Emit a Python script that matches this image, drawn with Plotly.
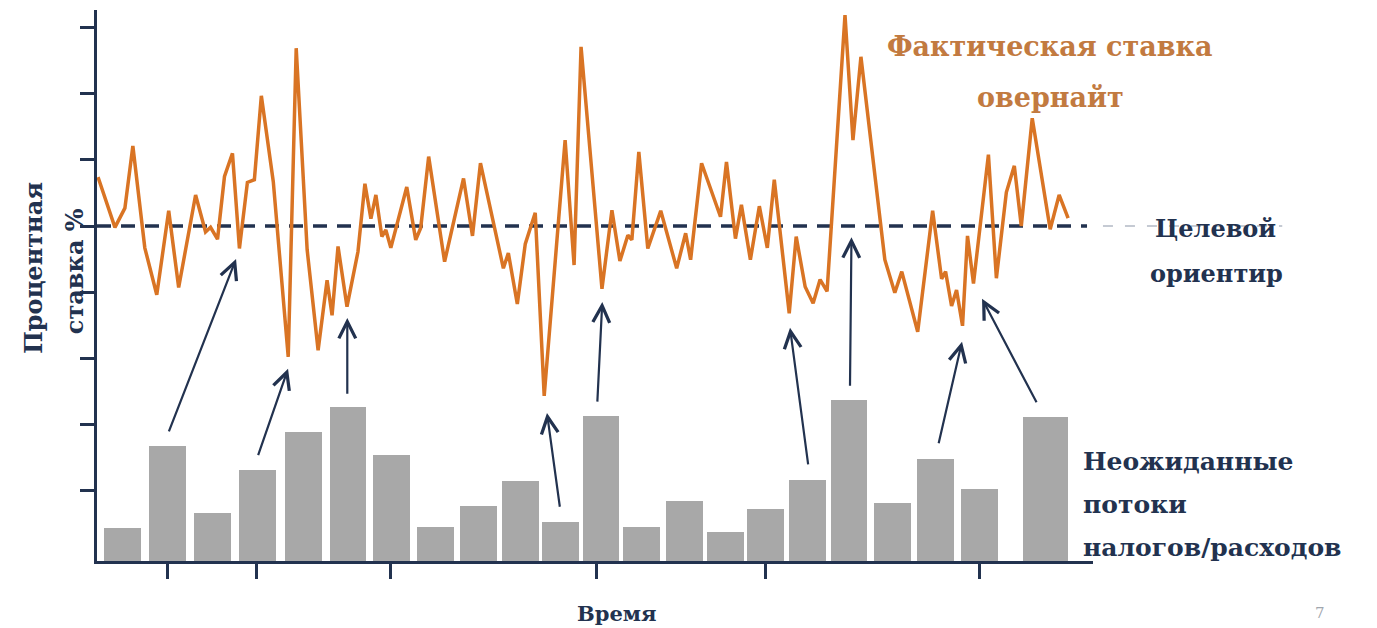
import plotly.graph_objects as go

# ---------------- data ----------------
# time in periods (0..100); overnight rate as deviation from target, p.p.
rate_t = [0.1, 1.8, 2.8, 3.6, 4.8, 6.0, 7.2, 8.2, 9.9, 10.9,
          11.4, 12.1, 12.8, 13.6, 14.3, 15.1, 15.8, 16.5, 17.7, 19.2,
          20.0, 21.1, 22.2, 23.1, 23.6, 24.2, 25.1, 26.2, 26.9, 27.5,
          28.0, 28.6, 29.0, 29.5, 31.1, 32.0, 32.5, 33.3, 34.9, 36.8,
          37.7, 38.5, 40.8, 41.3, 42.2, 43.0, 44.0, 44.9, 47.0, 47.9,
          48.6, 50.7, 51.7, 52.5, 53.3, 53.7, 54.4, 55.3, 56.6, 58.2,
          59.1, 59.6, 60.7, 62.6, 63.2, 64.1, 64.7, 65.6, 66.5, 67.3,
          68.0, 69.5, 70.2, 71.1, 71.9, 72.6, 73.3, 75.1, 75.9, 76.7,
          79.1, 80.1, 80.8, 82.4, 83.9, 84.8, 85.2, 85.8, 86.3, 86.9,
          87.4, 88.0, 89.5, 90.3, 91.3, 92.1, 92.8, 93.9, 95.7, 96.6, 97.5]
rate_dev = [0.74, -0.02, 0.27, 1.21, -0.33, -1.04, 0.23, -0.93, 0.47, -0.09,
            -0.02, -0.20, 0.75, 1.10, -0.34, 0.66, 0.70, 1.97, 0.67, -1.98,
            2.69, -0.36, -1.88, -0.82, -1.35, -0.31, -1.22, -0.39, 0.64, 0.11,
            0.47, -0.16, -0.06, -0.33, 0.59, -0.21, -0.03, 1.05, -0.54, 0.72,
            -0.15, 0.95, -0.64, -0.41, -1.18, -0.27, 0.20, -2.57, 1.30, -0.59,
            2.71, -0.95, 0.24, -0.53, -0.14, -0.21, 1.12, -0.34, 0.23, -0.64,
            -0.11, -0.51, 0.95, 0.14, 0.97, -0.19, 0.32, -0.51, 0.30, -0.33,
            0.70, -1.32, -0.16, -0.92, -1.17, -0.81, -0.99, 3.19, 1.30, 2.56,
            -0.51, -1.01, -0.69, -1.60, 0.23, -0.80, -0.69, -1.21, -0.97, -1.51,
            -0.15, -0.87, 1.08, -0.79, 0.51, 0.91, 0.00, 1.63, -0.05, 0.47, 0.12]

target_level = 0.0
target_end_t = 99.4

# unexpected tax / spending flows
flow_t = [2.6, 7.1, 11.6, 16.1, 20.7, 25.2, 29.6, 34.0, 38.3, 42.5, 46.5,
          50.6, 54.7, 59.0, 63.1, 67.1, 71.3, 75.5, 79.9, 84.2, 88.6, 95.2]
flow_size = [5.9, 20.9, 8.8, 16.5, 23.4, 27.9, 19.3, 6.2, 10.0, 14.6, 7.1,
             26.3, 6.2, 10.8, 5.3, 9.4, 14.7, 29.2, 10.5, 18.5, 13.1, 26.2]

# unlabeled tick positions
time_ticks = [7.1, 16.0, 29.5, 50.2, 67.1, 88.6]
rate_ticks = [-4, -3, -2, -1, 0, 1, 2, 3]

# arrows linking flows to rate moves: tail (t, rate) -> head (t, rate)
arrow_tail_t = [7.16, 16.13, 25.13, 46.49, 50.23, 71.42, 75.60, 84.47, 94.41]
arrow_tail_r = [-3.13, -3.49, -2.56, -4.27, -2.68, -3.63, -2.44, -3.31, -2.69]
arrow_head_t = [13.96, 19.18, 25.13, 45.18, 50.73, 69.58, 75.75, 86.85, 88.86]
arrow_head_r = [-0.50, -2.16, -1.39, -2.83, -1.15, -1.54, -0.17, -1.75, -1.10]

# ---------------- style ----------------
NAVY = "#22324f"
ORANGE = "#d97424"
ORANGE_TXT = "#c27a40"
GREY_BAR = "#a8a8a8"
FONT = "DejaVu Serif"

bar_widths = [3.7] * (len(flow_t) - 1) + [4.5]

fig = go.Figure()

fig.add_trace(go.Bar(
    x=flow_t, y=flow_size, width=bar_widths,
    marker=dict(color=GREY_BAR, line=dict(width=0)),
    yaxis="y", xaxis="x", hoverinfo="skip",
))

fig.add_trace(go.Scatter(
    x=[0, target_end_t], y=[target_level, target_level], mode="lines",
    line=dict(color=NAVY, width=3.5, dash="14px,10px"),
    yaxis="y2", hoverinfo="skip",
))

fig.add_trace(go.Scatter(
    x=rate_t, y=rate_dev, mode="lines",
    line=dict(color=ORANGE, width=3.5),
    yaxis="y2", hoverinfo="skip",
))

annotations = []
for tt, tr, ht, hr in zip(arrow_tail_t, arrow_tail_r, arrow_head_t, arrow_head_r):
    annotations.append(dict(
        x=ht, y=hr, ax=tt, ay=tr, xref="x", yref="y2", axref="x", ayref="y2",
        text="", showarrow=True, arrowhead=5, arrowsize=1.5, arrowwidth=2.2,
        arrowcolor=NAVY, standoff=0, startstandoff=0,
    ))


def label(text, x, y, size, color, xanchor="center", angle=0):
    annotations.append(dict(
        text=text, x=x, y=y, xref="paper", yref="paper", showarrow=False,
        xanchor=xanchor, yanchor="middle", textangle=angle,
        font=dict(family=FONT, size=size, color=color, weight="bold"),
    ))


label("Фактическая ставка", 0.957, 0.933, 27, ORANGE_TXT)
label("овернайт", 0.957, 0.842, 27, ORANGE_TXT)
label("Целевой", 1.1225, 0.604, 24, NAVY)
label("ориентир", 1.1235, 0.522, 24, NAVY)
label("Неожиданные", 0.988, 0.180, 25, NAVY, xanchor="left")
label("потоки", 0.988, 0.102, 25, NAVY, xanchor="left")
label("налогов/расходов", 0.988, 0.025, 25, NAVY, xanchor="left")
label("Время", 0.522, -0.096, 21, NAVY)
label("Процентная", -0.0633, 0.532, 24, NAVY, angle=-90)
label("ставка %", -0.0231, 0.526, 24, NAVY, angle=-90)

# slide number in the corner
annotations.append(dict(
    text="7", x=1.228, y=-0.095, xref="paper", yref="paper", showarrow=False,
    xanchor="center", yanchor="middle",
    font=dict(family=FONT, size=15, color="#a0a6ae"),
))

fig.update_layout(
    width=1377, height=628,
    margin=dict(l=97, r=284, t=10, b=67),
    paper_bgcolor="white", plot_bgcolor="white",
    showlegend=False, bargap=0,
    xaxis=dict(
        range=[0, 100], showgrid=False, zeroline=False,
        showline=True, linecolor=NAVY, linewidth=3,
        ticks="outside", ticklen=15, tickwidth=2.5, tickcolor=NAVY,
        tickvals=time_ticks, showticklabels=False,
    ),
    yaxis=dict(range=[0, 100], visible=False),
    yaxis2=dict(
        range=[-5.068, 3.268], overlaying="y", side="left", anchor="x",
        showgrid=False, zeroline=False,
        showline=True, linecolor=NAVY, linewidth=3,
        ticks="outside", ticklen=14, tickwidth=2.5, tickcolor=NAVY,
        tickvals=rate_ticks, showticklabels=False,
    ),
    shapes=[dict(
        type="line", xref="paper", yref="y2", x0=1.01, x1=1.19,
        y0=target_level, y1=target_level,
        line=dict(color="#c5cad3", width=2, dash="10px,12px"), layer="below",
    )],
    annotations=annotations,
)

fig.write_html("out.html")
